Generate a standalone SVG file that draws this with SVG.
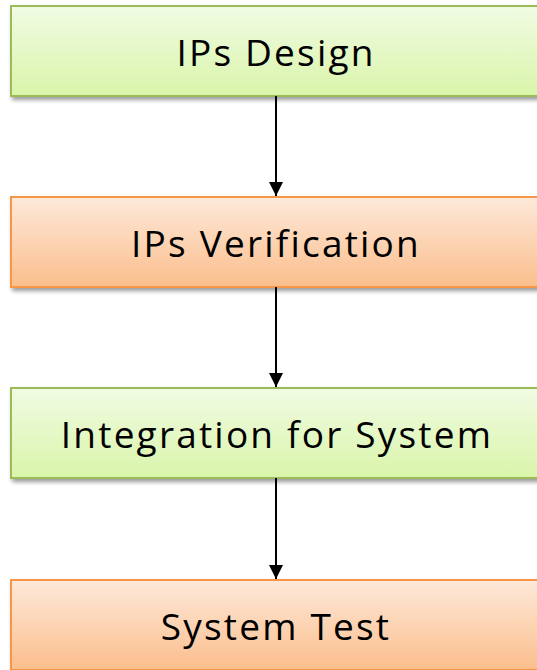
<svg xmlns="http://www.w3.org/2000/svg" width="537" height="670" viewBox="0 0 537 670">
<defs>
<linearGradient id="gG" x1="0" y1="0" x2="0" y2="1"><stop offset="0" stop-color="#f1fbe3"/><stop offset="1" stop-color="#d9f5aa"/></linearGradient>
<linearGradient id="gO" x1="0" y1="0" x2="0" y2="1"><stop offset="0" stop-color="#fde9da"/><stop offset="1" stop-color="#fbbe8c"/></linearGradient>
<filter id="sh" x="-5%" y="-10%" width="115%" height="130%"><feGaussianBlur in="SourceAlpha" stdDeviation="2"/><feOffset dx="2" dy="3"/><feComponentTransfer><feFuncA type="linear" slope="0.4"/></feComponentTransfer><feMerge><feMergeNode/><feMergeNode in="SourceGraphic"/></feMerge></filter>
<marker id="ah" markerWidth="7" markerHeight="7" refX="7" refY="3.5" orient="auto" markerUnits="strokeWidth"><path d="M0,0 L7,3.5 L0,7 Z" fill="#000"/></marker>
</defs>
<style>
.g{fill:url(#gG);stroke:#9bbb59;stroke-width:2;filter:url(#sh)}
.o{fill:url(#gO);stroke:#f79646;stroke-width:2;filter:url(#sh)}
.t{font-family:"Open Sans","Noto Sans",sans-serif;font-size:37px;letter-spacing:2.2px;fill:#000;text-anchor:middle}
.c{stroke:#000;stroke-width:2;fill:none;marker-end:url(#ah)}
</style>
<g id="n1"><rect class="g" x="11" y="6" width="530" height="90"/><text class="t" x="276" y="66">IPs Design</text></g>
<g id="n2"><rect class="o" x="11" y="197" width="530" height="90"/><text class="t" x="276" y="257">IPs Verification</text></g>
<g id="n3"><rect class="g" x="11" y="388" width="530" height="90"/><text class="t" x="277" y="448">Integration for System</text></g>
<g id="n4"><rect class="o" x="11" y="580" width="530" height="90"/><text class="t" x="276" y="640">System Test</text></g>
<g id="edges">
<line class="c" x1="276" y1="96" x2="276" y2="196"/>
<line class="c" x1="276" y1="287" x2="276" y2="387"/>
<line class="c" x1="276" y1="478" x2="276" y2="579"/>
</g>
</svg>
